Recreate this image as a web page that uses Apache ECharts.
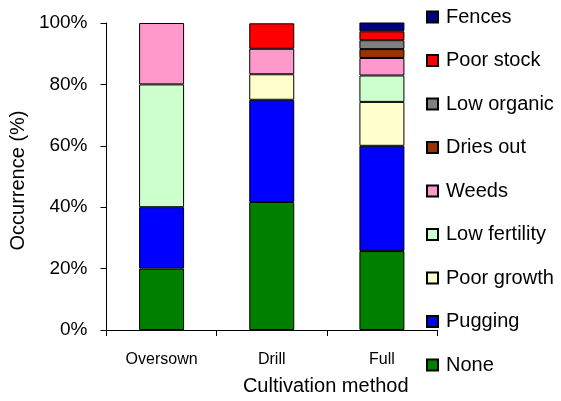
<!DOCTYPE html>
<html>
<head>
<meta charset="utf-8">
<script src="https://cdn.jsdelivr.net/npm/echarts@6/dist/echarts.min.js"></script>
<style>html,body{margin:0;padding:0;background:#fff}#c{width:561px;height:401px}</style>
</head>
<body>
<div id="c"></div>
<script>
var categories = ['Oversown', 'Drill', 'Full'];
var yTicks = ['0%', '20%', '40%', '60%', '80%', '100%'];
// series in stacking order (bottom to top), values in % occurrence
var seriesNames = ['None', 'Pugging', 'Poor growth', 'Low fertility', 'Weeds', 'Dries out', 'Low organic', 'Poor stock', 'Fences'];
var none        = [20, 41.7, 25.7];
var pugging     = [20, 33.3, 34.3];
var poorGrowth  = [null, 8.3, 14.3];
var lowFert     = [40, null, 8.6];
var weeds       = [20, 8.3, 5.7];
var driesOut    = [null, null, 2.9];
var lowOrganic  = [null, null, 2.9];
var poorStock   = [null, 8.3, 2.9];
var fences      = [null, null, 2.9];
var colors = ['#008000', '#0000ff', '#ffffcc', '#ccffcc', '#ff99cc', '#993300', '#808080', '#ff0000', '#000080'];

var values = [none, pugging, poorGrowth, lowFert, weeds, driesOut, lowOrganic, poorStock, fences];
var FONT = 'Liberation Sans, Arial, sans-serif';
var chart = echarts.init(document.getElementById('c'), null, {renderer: 'canvas'});
var series = seriesNames.map(function (n, i) {
  return {
    name: n,
    type: 'bar',
    stack: 'all',
    barWidth: 45,
    data: values[i],
    itemStyle: {color: colors[i], borderColor: '#000', borderWidth: 1},
    emphasis: {disabled: true}
  };
});
chart.setOption({
  animation: false,
  backgroundColor: '#fff',
  textStyle: {fontFamily: FONT, color: '#000'},
  grid: {left: 105, top: 23, right: 124, bottom: 69, containLabel: false},
  legend: {
    orient: 'vertical',
    left: 421,
    top: 2,
    itemWidth: 11,
    itemHeight: 11,
    itemGap: 23.5,
    icon: 'rect',
    data: seriesNames.slice().reverse(),
    textStyle: {fontFamily: FONT, fontSize: 20, color: '#000', lineHeight: 20, padding: [0, 0, 0, 3]}
  },
  xAxis: {
    type: 'category',
    data: categories,
    name: 'Cultivation method',
    nameLocation: 'middle',
    nameGap: 46,
    nameTextStyle: {fontFamily: FONT, fontSize: 20, color: '#000', padding: [0, 0, 0, 108]},
    axisLine: {lineStyle: {color: '#000', width: 1}},
    axisTick: {show: true, length: 6, lineStyle: {color: '#000'}},
    axisLabel: {fontFamily: FONT, fontSize: 16, color: '#000', margin: 22}
  },
  yAxis: {
    type: 'value',
    min: 0,
    max: 100,
    interval: 20,
    name: 'Occurrence (%)',
    nameLocation: 'middle',
    nameGap: 66,
    nameRotate: 90,
    nameTextStyle: {fontFamily: FONT, fontSize: 20, color: '#000', padding: [0, 8, 0, 0]},
    splitLine: {show: false},
    axisLine: {show: true, lineStyle: {color: '#000', width: 1}},
    axisTick: {show: true, length: 6, lineStyle: {color: '#000'}},
    axisLabel: {
      fontFamily: FONT, fontSize: 19, color: '#000', margin: 19,
      formatter: function (v) { return yTicks[Math.round(v / 20)]; }
    }
  },
  series: series
});
</script>
</body>
</html>
